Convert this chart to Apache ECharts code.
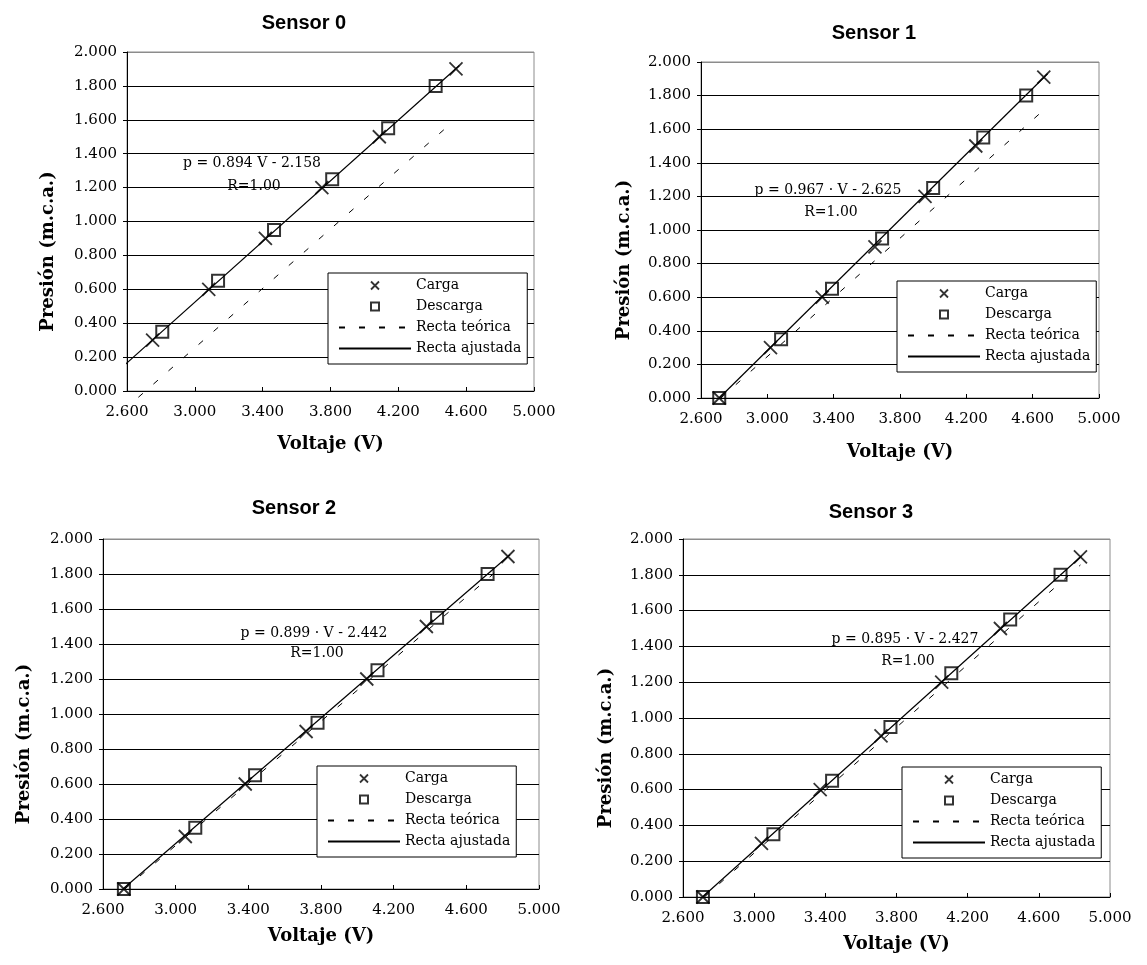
<!DOCTYPE html>
<html><head><meta charset="utf-8">
<script src="https://cdn.jsdelivr.net/npm/echarts@6/dist/echarts.min.js"></script>
<style>html,body{margin:0;padding:0;background:#fff}#c{width:1147px;height:965px}</style>
</head><body><div id="c"></div>
<script>
// ---------- data ----------
const sensorNames = ['Sensor 0', 'Sensor 1', 'Sensor 2', 'Sensor 3'];
const seriesNames = ['Carga', 'Descarga', 'Recta teórica', 'Recta ajustada'];
const xTickValues = [2.6, 3.0, 3.4, 3.8, 4.2, 4.6, 5.0];
const yTickValues = [0, 0.2, 0.4, 0.6, 0.8, 1.0, 1.2, 1.4, 1.6, 1.8, 2.0];

// Sensor 0
const cargaV0 = [2.751, 3.082, 3.416, 3.749, 4.088, 4.540];
const cargaP0 = [0.30, 0.60, 0.90, 1.20, 1.50, 1.90];
const descargaV0 = [2.808, 3.137, 3.467, 3.810, 4.140, 4.420];
const descargaP0 = [0.35, 0.65, 0.95, 1.25, 1.55, 1.80];
const teoV0 = [2.667, 4.516];
const teoP0 = [-0.037, 1.583];
const ajV0 = [2.56, 4.56];
const ajP0 = [0.13, 1.92];
// Sensor 1
const cargaV1 = [2.710, 3.019, 3.331, 3.649, 3.951, 4.257, 4.667];
const cargaP1 = [0.00, 0.30, 0.60, 0.90, 1.20, 1.50, 1.91];
const descargaV1 = [2.710, 3.083, 3.390, 3.692, 4.000, 4.302, 4.561];
const descargaP1 = [0.00, 0.35, 0.65, 0.95, 1.25, 1.55, 1.80];
const teoV1 = [2.72, 4.647];
const teoP1 = [0.00, 1.697];
const ajV1 = [2.71, 4.69];
const ajP1 = [0.00, 1.93];
// Sensor 2
const cargaV2 = [2.715, 3.053, 3.383, 3.718, 4.052, 4.380, 4.829];
const cargaP2 = [0.00, 0.30, 0.60, 0.90, 1.20, 1.50, 1.90];
const descargaV2 = [2.715, 3.108, 3.437, 3.781, 4.111, 4.439, 4.717];
const descargaP2 = [0.00, 0.35, 0.65, 0.95, 1.25, 1.55, 1.80];
const teoV2 = [2.72, 4.79];
const teoP2 = [0.00, 1.837];
const ajV2 = [2.71, 4.84];
const ajP2 = [0.00, 1.91];
// Sensor 3
const cargaV3 = [2.712, 3.041, 3.371, 3.713, 4.054, 4.384, 4.834];
const cargaP3 = [0.00, 0.30, 0.60, 0.90, 1.20, 1.50, 1.90];
const descargaV3 = [2.712, 3.108, 3.438, 3.766, 4.108, 4.439, 4.722];
const descargaP3 = [0.00, 0.35, 0.65, 0.95, 1.25, 1.55, 1.80];
const teoV3 = [2.72, 4.834];
const teoP3 = [0.00, 1.855];
const ajV3 = [2.71, 4.84];
const ajP3 = [0.00, 1.905];

const equations = ['p = 0.894 V - 2.158', 'p = 0.967 · V - 2.625', 'p = 0.899 · V - 2.442', 'p = 0.895 · V - 2.427'];
const rLabel = 'R=1.00';
const xAxisName = 'Voltaje (V)';
const yAxisName = 'Presión (m.c.a.)';

// ---------- layout ----------
const layout = [
  {grid: {left: 127, top: 52, width: 407, height: 339}, title: [304, 23], eq: [252, 163], r: [254, 186], legend: [328, 273], xGap: 44, yGap: 70},
  {grid: {left: 701, top: 62, width: 398, height: 336}, title: [874, 33], eq: [828, 190], r: [831, 212], legend: [897, 281], xGap: 45, yGap: 68},
  {grid: {left: 103, top: 539, width: 436, height: 350}, title: [294, 508], eq: [314, 633], r: [317, 653], legend: [317, 766], xGap: 38, yGap: 70},
  {grid: {left: 683, top: 539, width: 427, height: 358}, title: [871, 512], eq: [905, 639], r: [908, 661], legend: [902, 767], xGap: 38, yGap: 68}
];

const sensors = [
  {cV: cargaV0, cP: cargaP0, dV: descargaV0, dP: descargaP0, tV: teoV0, tP: teoP0, aV: ajV0, aP: ajP0},
  {cV: cargaV1, cP: cargaP1, dV: descargaV1, dP: descargaP1, tV: teoV1, tP: teoP1, aV: ajV1, aP: ajP1},
  {cV: cargaV2, cP: cargaP2, dV: descargaV2, dP: descargaP2, tV: teoV2, tP: teoP2, aV: ajV2, aP: ajP2},
  {cV: cargaV3, cP: cargaP3, dV: descargaV3, dP: descargaP3, tV: teoV3, tP: teoP3, aV: ajV3, aP: ajP3}
];

const zip = (a, b) => a.map((v, i) => [v, b[i]]);
const SERIF = '"DejaVu Serif", serif';
const crossPath = 'path://M0,0L10,10M10,0L0,10';
const squarePath = 'path://M0,0L10,0L10,10L0,10Z';
const splitColors = yTickValues.map((v, i) => i === yTickValues.length - 1 ? '#8c8c8c' : '#000');
const DASH = [6, 14];

const grids = [], xAxes = [], yAxes = [], series = [], legends = [], graphics = [];

layout.forEach((L, i) => {
  const S = sensors[i];
  grids.push(Object.assign({show: true, borderColor: '#8c8c8c', borderWidth: 1, backgroundColor: '#fff'}, L.grid));
  xAxes.push({
    type: 'value', gridIndex: i, min: xTickValues[0], max: xTickValues[xTickValues.length - 1],
    interval: 0.4,
    name: xAxisName, nameLocation: 'middle', nameGap: L.xGap,
    nameTextStyle: {fontFamily: SERIF, fontWeight: 'bold', fontSize: 18, color: '#000'},
    axisLine: {show: true, onZero: false, lineStyle: {color: '#000', width: 1}},
    axisTick: {show: true, inside: true, length: 4, lineStyle: {color: '#000'}},
    axisLabel: {fontFamily: SERIF, fontSize: 15, color: '#000', margin: 14, formatter: v => v.toFixed(3)},
    splitLine: {show: false}
  });
  yAxes.push({
    type: 'value', gridIndex: i, min: yTickValues[0], max: yTickValues[yTickValues.length - 1],
    interval: 0.2,
    name: yAxisName, nameLocation: 'middle', nameGap: L.yGap,
    nameTextStyle: {fontFamily: SERIF, fontWeight: 'bold', fontSize: 18, color: '#000', padding: [0, 60, 0, 0]},
    axisLine: {show: true, onZero: false, lineStyle: {color: '#000', width: 1}},
    axisTick: {show: true, inside: false, length: 4, lineStyle: {color: '#000'}},
    axisLabel: {fontFamily: SERIF, fontSize: 15, color: '#000', margin: 10, formatter: v => v.toFixed(3)},
    splitLine: {show: true, lineStyle: {color: splitColors, width: 1}}
  });
  series.push({
    name: seriesNames[0], type: 'scatter', xAxisIndex: i, yAxisIndex: i,
    data: zip(S.cV, S.cP), symbol: crossPath, symbolSize: 13,
    itemStyle: {color: 'rgba(0,0,0,0)', borderColor: '#000', borderWidth: 1.8}, z: 3
  });
  series.push({
    name: seriesNames[1], type: 'scatter', xAxisIndex: i, yAxisIndex: i,
    data: zip(S.dV, S.dP), symbol: squarePath, symbolSize: 12,
    itemStyle: {color: 'rgba(0,0,0,0)', borderColor: '#000', borderWidth: 2}, z: 3
  });
  series.push({
    name: seriesNames[2], type: 'line', xAxisIndex: i, yAxisIndex: i,
    data: zip(S.tV, S.tP), showSymbol: false, symbol: 'none', clip: false,
    lineStyle: {color: '#000', width: 1, type: DASH}, itemStyle: {color: '#000'}, z: 2
  });
  series.push({
    name: seriesNames[3], type: 'line', xAxisIndex: i, yAxisIndex: i,
    data: zip(S.aV, S.aP), showSymbol: false, symbol: 'none', clip: false,
    lineStyle: {color: '#000', width: 1.2, type: 'solid'}, itemStyle: {color: '#000'}, z: 2
  });
  legends.push({
    data: [
      {name: seriesNames[0], icon: crossPath, itemStyle: {color: 'rgba(0,0,0,0)', borderColor: '#000', borderWidth: 1.8}},
      {name: seriesNames[1], icon: squarePath, itemStyle: {color: 'rgba(0,0,0,0)', borderColor: '#000', borderWidth: 2}},
      {name: seriesNames[2], itemStyle: {color: 'rgba(0,0,0,0)', borderWidth: 0, opacity: 0}},
      {name: seriesNames[3], itemStyle: {color: 'rgba(0,0,0,0)', borderWidth: 0, opacity: 0}}
    ],
    orient: 'vertical', left: L.legend[0], top: L.legend[1],
    itemWidth: 72, itemHeight: 8, itemGap: 6, padding: [5, 6, 8, 10],
    borderColor: '#000', borderWidth: 1, backgroundColor: '#fff',
    textStyle: {fontFamily: SERIF, fontSize: 14, color: '#000', lineHeight: 15},
    selectedMode: false
  });
  graphics.push({type: 'text', x: L.title[0], y: L.title[1], style: {text: sensorNames[i], font: 'bold 20px "Liberation Sans", Arial, sans-serif', fill: '#000', align: 'center', verticalAlign: 'middle'}, z: 10});
  graphics.push({type: 'text', x: L.eq[0], y: L.eq[1], style: {text: equations[i], font: '14px "DejaVu Serif", serif', fill: '#000', align: 'center', verticalAlign: 'middle'}, z: 10});
  graphics.push({type: 'text', x: L.r[0], y: L.r[1], style: {text: rLabel, font: '14px "DejaVu Serif", serif', fill: '#000', align: 'center', verticalAlign: 'middle'}, z: 10});
});

const chart = echarts.init(document.getElementById('c'), null, {renderer: 'canvas'});
chart.setOption({
  animation: false,
  backgroundColor: '#fff',
  grid: grids, xAxis: xAxes, yAxis: yAxes, series: series, legend: legends, graphic: graphics
});
</script>
</body></html>
